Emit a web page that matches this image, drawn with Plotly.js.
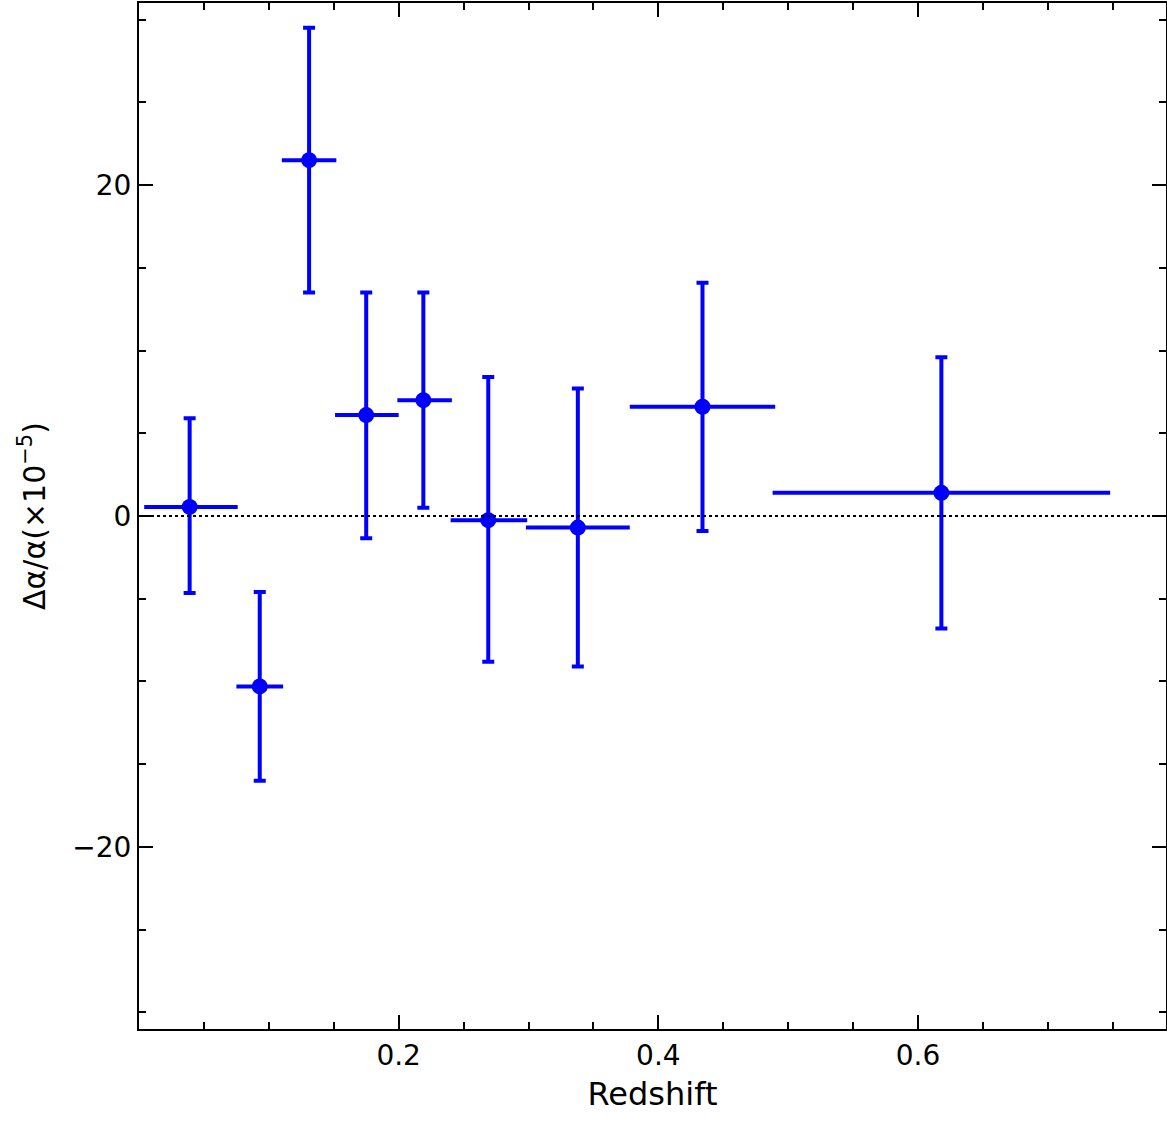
<!DOCTYPE html>
<html>
<head>
<meta charset="utf-8">
<script src="https://cdn.plot.ly/plotly-3.0.1.min.js"></script>
<style>body{margin:0;background:#fff}#graph{width:1167px;height:1133px}</style>
</head>
<body>
<div id="graph"></div>
<script>
// redshift bins and delta alpha / alpha (x1e-5)
const redshift = [0.039, 0.093, 0.131, 0.175, 0.219, 0.269, 0.338, 0.434, 0.618];
const binLow   = [0.004, 0.075, 0.110, 0.151, 0.199, 0.240, 0.298, 0.378, 0.488];
const binHigh  = [0.076, 0.111, 0.152, 0.200, 0.241, 0.299, 0.378, 0.490, 0.748];
const dAlpha   = [0.55, -10.3, 21.5, 6.1, 7.0, -0.25, -0.7, 6.6, 1.4];
const errUp    = [5.9, -4.6, 29.5, 13.5, 13.5, 8.4, 7.7, 14.1, 9.6];
const errDown  = [-4.65, -16.0, 13.5, -1.35, 0.5, -8.8, -9.1, -0.9, -6.8];

const blue = '#0000ff';
const trace = {
    x: redshift,
    y: dAlpha,
    mode: 'markers',
    type: 'scatter',
    marker: {size: 16, color: blue},
    error_y: {type: 'data', symmetric: false,
        array: errUp.map((v, i) => v - dAlpha[i]),
        arrayminus: dAlpha.map((v, i) => v - errDown[i]),
        color: blue, thickness: 4, width: 6},
    error_x: {type: 'data', symmetric: false,
        array: binHigh.map((v, i) => v - redshift[i]),
        arrayminus: redshift.map((v, i) => v - binLow[i]),
        color: blue, thickness: 4, width: 0}
};

const axisBase = {
    showgrid: false, zeroline: false, showline: true, mirror: 'ticks',
    linecolor: '#000', linewidth: 2, ticks: 'inside', ticklen: 14,
    tickwidth: 1.5, tickcolor: '#000',
    tickfont: {size: 28, color: '#000'}
};

const layout = {
    width: 1167, height: 1133,
    margin: {l: 139, r: 1, t: 3, b: 104},
    paper_bgcolor: '#fff', plot_bgcolor: '#fff',
    font: {family: 'DejaVu Sans', color: '#000'},
    showlegend: false,
    xaxis: Object.assign({}, axisBase, {
        range: [0, 0.791], tickvals: [0.2, 0.4, 0.6],
        minor: {dtick: 0.05, tick0: 0, ticks: 'inside', ticklen: 7, tickcolor: '#000', tickwidth: 1.5},
        title: {text: 'Redshift', font: {size: 32}, standoff: 12}
    }),
    yaxis: Object.assign({}, axisBase, {
        range: [-31, 31], tickvals: [-20, 0, 20], ticktext: ['\u221220', '0', '20'],
        minor: {dtick: 5, tick0: 0, ticks: 'inside', ticklen: 7, tickcolor: '#000', tickwidth: 1.5},
        title: {text: '\u0394\u03b1/\u03b1(\u00d710<sup>\u22125</sup>)', font: {size: 30}, standoff: 18}
    }),
    shapes: [{type: 'line', xref: 'paper', x0: 0, x1: 1, yref: 'y', y0: 0, y1: 0,
        line: {color: '#000', width: 2, dash: 'dot'}}]
};

Plotly.newPlot('graph', [trace], layout, {displayModeBar: false});
</script>
</body>
</html>
